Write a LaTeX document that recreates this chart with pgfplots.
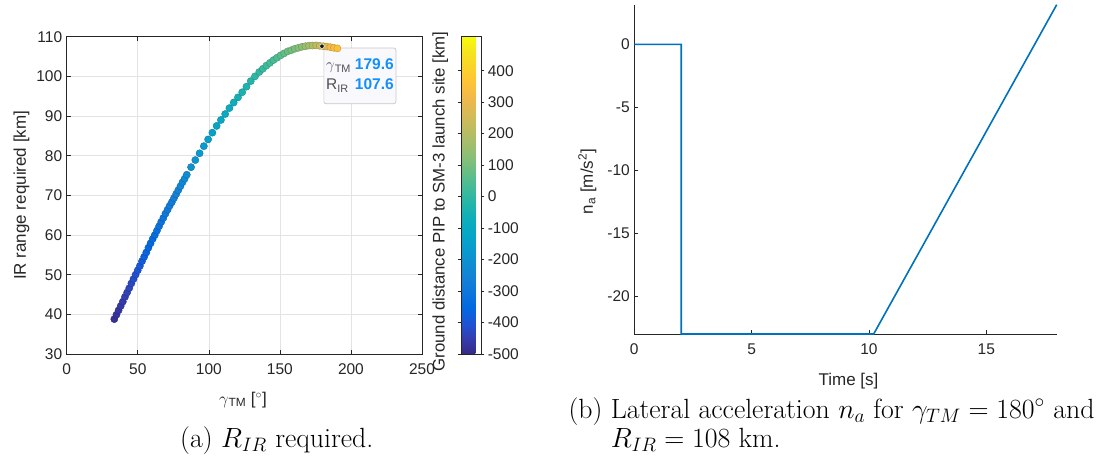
\documentclass[border=0pt]{standalone}
\usepackage{fix-cm}
\usepackage{fontspec}
\usepackage{pgfplots}
\usepackage{pgfplotstable}
\pgfplotsset{compat=1.18}
\newfontfamily\arial{Liberation Sans}
\definecolor{mgray}{HTML}{262626}
\definecolor{mblue}{HTML}{0072BD}
\definecolor{tipblue}{HTML}{1490FA}
\definecolor{tiplab}{HTML}{505050}
\definecolor{tipfill}{HTML}{F9F9FD}
\pgfplotsset{
  colormap={parula}{rgb255=(53,42,135) rgb255=(53,61,173) rgb255=(32,83,212) rgb255=(2,104,225) rgb255=(13,117,220) rgb255=(20,129,214) rgb255=(16,142,210) rgb255=(7,156,207) rgb255=(6,167,198) rgb255=(15,174,185) rgb255=(37,181,169) rgb255=(66,187,152) rgb255=(101,190,134) rgb255=(135,191,119) rgb255=(165,190,107) rgb255=(192,188,96) rgb255=(217,186,86) rgb255=(241,185,74) rgb255=(255,195,55) rgb255=(250,211,42) rgb255=(245,228,29) rgb255=(249,251,14)},
  /pgf/number format/assume math mode=true,
  mat/.style={
    scale only axis,
    font=\fontsize{15.5}{18}\selectfont\arial,
    tick label style={font=\fontsize{15.5}{18}\selectfont\arial, text=mgray},
    axis line style={mgray, line width=0.7pt},
    tick style={mgray, line width=0.6pt},
    major tick length=4pt,
    tick align=inside,
    xticklabel style={yshift=-6pt},
    yticklabel style={xshift=-1pt},
  }
}
\pgfplotstableread{
g r c
33.5 38.8 -482
35 39.9 -476
36.5 41.0 -470
38 42.1 -463
39.5 43.2 -456
41 44.4 -449
42.5 45.5 -442
44 46.6 -435
45.5 47.8 -427
47 48.9 -419
48.5 50.0 -410
50 51.1 -400
51.5 52.2 -391
53 53.4 -382
54.5 54.5 -373
56 55.6 -365
57.5 56.8 -357
59 57.9 -350
60.5 59.0 -342
62 60.0 -335
63.5 61.1 -327
65 62.2 -320
66.5 63.3 -312
68 64.3 -305
69.5 65.4 -297
71 66.4 -290
72.5 67.4 -282
74 68.3 -275
75.5 69.3 -267
77 70.3 -259
78.5 71.3 -251
80 72.3 -243
81.5 73.3 -234
83 74.2 -226
84.5 75.2 -218
87.5 77.1 -204
90.5 78.9 -190
93.5 80.6 -177
96.5 82.4 -163
99.5 84.1 -150
102.5 85.8 -136
105.5 87.5 -123
108.5 89.0 -109
111.5 90.5 -96
114.5 92.0 -82
117.5 93.4 -70
120.5 94.7 -58
123.5 96.0 -46
126.5 97.4 -34
129.5 98.8 -22
132.5 100.0 -10
135.5 101.1 2
138 101.9 10
140.5 102.7 19
143 103.4 28
145.5 104.1 37
148 104.7 48
150.5 105.3 60
153 105.8 71
155.5 106.3 83
158 106.6 95
160.5 106.95 107
163 107.2 120
165.5 107.45 134
168 107.6 149
170.5 107.75 166
173 107.78 188
175.5 107.8 212
178 107.7 238
180.5 107.6 262
183 107.5 288
185.5 107.37 312
188 107.2 333
190.5 107.05 354
}\scatterdata
\pgfplotstableread{
t n
0 0
2 0
2 -23
10.2 -23
18 3.15
}\nadata
\begin{document}
\begin{tikzpicture}
\path[use as bounding box] (0,0) rectangle (1113pt,463pt);
% ---------- (a) ----------
\begin{axis}[mat,
  at={(66.7pt,109pt)}, anchor=south west,
  width=355.3pt, height=317.3pt,
  xmin=0, xmax=250, ymin=30, ymax=110,
  xtick={0,50,...,250}, ytick={30,40,...,110},
  grid=major, grid style={black!11, line width=0.6pt},
  xlabel={$\gamma$\textsubscript{TM} [\textsuperscript{$\circ$}]},
  ylabel={IR range required [km]},
  xlabel style={font=\fontsize{17}{20}\selectfont\arial, text=mgray, at={(axis description cs:0.496,-0.145)}, anchor=center},
  ylabel style={font=\fontsize{17}{20}\selectfont\arial, text=mgray, at={(axis description cs:-0.127,0.5)}, anchor=center},
  colormap name=parula,
  point meta min=-500, point meta max=508,
  colorbar,
  colorbar shift/.style={xshift=23pt},
  colorbar style={
    scale only axis, width=20pt, height=317.3pt,
    ytick={-500,-400,...,400},
    yticklabel pos=right,
    ytick align=outside, major tick length=3pt,
    tick label style={font=\fontsize{15.5}{18}\selectfont\arial, text=mgray},
    axis line style={mgray, line width=0.7pt},
    yticklabel style={xshift=0pt},
    ylabel={Ground distance PIP to SM-3 launch site [km]},
    ylabel style={font=\fontsize{16.8}{20}\selectfont\arial, text=mgray, at={(axis description cs:-1.05,0.48)}, anchor=center, rotate=0},
  },
]
\addplot[scatter, only marks, mark=*, mark size=3.6pt, scatter src=explicit] table[x=g, y=r, meta=c] {\scatterdata};
\addplot[only marks, mark=*, mark size=2.3pt, mark options={draw=white, fill=black!90, line width=0.5pt}, forget plot] coordinates {(179.6,107.6)};
\node[anchor=north west, draw=black!22, line width=0.7pt, fill=tipfill, rounded corners=2pt, minimum width=72pt, minimum height=55.6pt, inner sep=0pt, font=\fontsize{15.5}{20}\selectfont\arial] at ([xshift=1.6pt,yshift=-1.5pt]axis cs:179.6,107.6)
 {\begin{tabular}{@{}l@{\hspace{4pt}}l@{}}
  {\color{tiplab}$\gamma$\textsubscript{TM}} & {\color{tipblue}\bfseries 179.6}\\
  {\color{tiplab}R\textsubscript{IR}} & {\color{tipblue}\bfseries 107.6}
  \end{tabular}};
\end{axis}
% ---------- (b) ----------
\begin{axis}[mat,
  at={(634.3pt,129pt)}, anchor=south west,
  width=422.4pt, height=329.3pt,
  xmin=0, xmax=18, ymin=-23, ymax=3.15,
  axis x line*=bottom, axis y line*=left,
  xtick={0,5,10,15}, ytick={-20,-15,-10,-5,0},
  clip=false,
  xlabel={Time [s]},
  ylabel={n\textsubscript{a} [m/s\textsuperscript{2}]},
  xlabel style={font=\fontsize{17}{20}\selectfont\arial, text=mgray, at={(axis description cs:0.507,-0.143)}, anchor=center},
  ylabel style={font=\fontsize{17}{20}\selectfont\arial, text=mgray, at={(axis description cs:-0.111,0.463)}, anchor=center},
]
\addplot[mblue, line width=1.6pt] table[x=t, y=n] {\nadata};
\end{axis}
% ---------- captions ----------
\node[anchor=base west, font=\fontsize{27.8}{33}\selectfont] at (176.7pt,16pt) {(a) $R_{IR}$ required.};
\node[anchor=base west, font=\fontsize{27.8}{33}\selectfont] at (565pt,45pt) {(b) Lateral acceleration $n_a$ for $\gamma_{TM} = 180^\circ$ and};
\node[anchor=base west, font=\fontsize{27.8}{33}\selectfont] at (565pt,16pt) {\phantom{(b)}\ $R_{IR} = 108$ km.};
\end{tikzpicture}
\end{document}
